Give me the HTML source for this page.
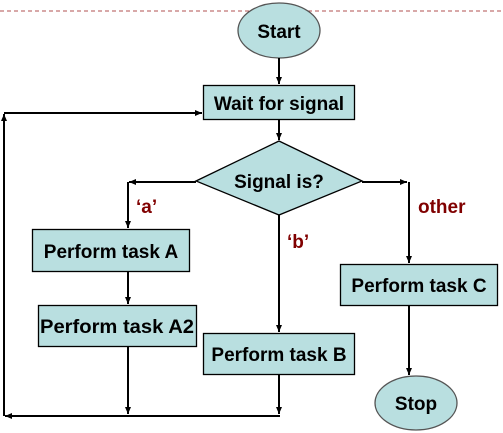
<!DOCTYPE html>
<html><head><style>body{margin:0;background:#fff}svg{display:block}text{font-family:"Liberation Sans",Arial,sans-serif;font-weight:bold;font-size:19px}</style></head><body>
<svg width="503" height="433" viewBox="0 0 503 433">
<defs><marker id="a" markerWidth="8" markerHeight="8" refX="7" refY="4" orient="auto" markerUnits="userSpaceOnUse"><path d="M0,1 L7,4 L0,7z" fill="#000"/></marker></defs>
<line x1="0" y1="11" x2="503" y2="11" stroke="#b05050" stroke-dasharray="4,3" stroke-width="1"/>
<g fill="#b9dfe0" stroke="#000" stroke-width="1.3">
<ellipse cx="279" cy="30.5" rx="41" ry="27.5" stroke="#555"/>
<rect x="203.5" y="85.5" width="151" height="34"/>
<polygon points="196,181 279,141 362,181 279,215"/>
<rect x="32.5" y="229.5" width="157" height="42"/>
<rect x="38.5" y="305.5" width="158" height="41"/>
<rect x="203.5" y="333.5" width="151" height="41"/>
<rect x="340.5" y="264.5" width="157" height="41"/>
<ellipse cx="416" cy="403" rx="41" ry="27" stroke="#555"/>
</g>
<g stroke="#000" stroke-width="2" fill="none">
<line x1="279" y1="58" x2="279" y2="84" marker-end="url(#a)"/>
<line x1="279" y1="120" x2="279" y2="140" marker-end="url(#a)"/>
<polyline points="196,182 129,182" marker-end="url(#a)"/>
<line x1="128" y1="182" x2="128" y2="228" marker-end="url(#a)"/>
<polyline points="362,182 407,182" marker-end="url(#a)"/>
<line x1="409" y1="182" x2="409" y2="263" marker-end="url(#a)"/>
<line x1="279" y1="215" x2="279" y2="332" marker-end="url(#a)"/>
<line x1="128" y1="272" x2="128" y2="304" marker-end="url(#a)"/>
<line x1="409" y1="306" x2="409" y2="375" marker-end="url(#a)"/>
<line x1="128" y1="347" x2="128" y2="414" marker-end="url(#a)"/>
<line x1="279" y1="375" x2="279" y2="414" marker-end="url(#a)"/>
<line x1="280" y1="416" x2="5" y2="416" marker-end="url(#a)"/>
<line x1="4" y1="416" x2="4" y2="114" marker-end="url(#a)"/>
<line x1="4" y1="113" x2="202" y2="113" marker-end="url(#a)"/>
</g>
<g text-anchor="middle" fill="#000">
<text x="279" y="38">Start</text>
<text x="279" y="110">Wait for signal</text>
<text x="279" y="188">Signal is?</text>
<text x="111" y="258">Perform task A</text>
<text x="117" y="333" textLength="154" lengthAdjust="spacingAndGlyphs">Perform task A2</text>
<text x="279" y="361">Perform task B</text>
<text x="419" y="292">Perform task C</text>
<text x="416" y="410">Stop</text>
</g>
<g fill="#800000">
<text x="136" y="213">‘a’</text>
<text x="287" y="248">‘b’</text>
<text x="418" y="213">other</text>
</g>
</svg>
</body></html>
